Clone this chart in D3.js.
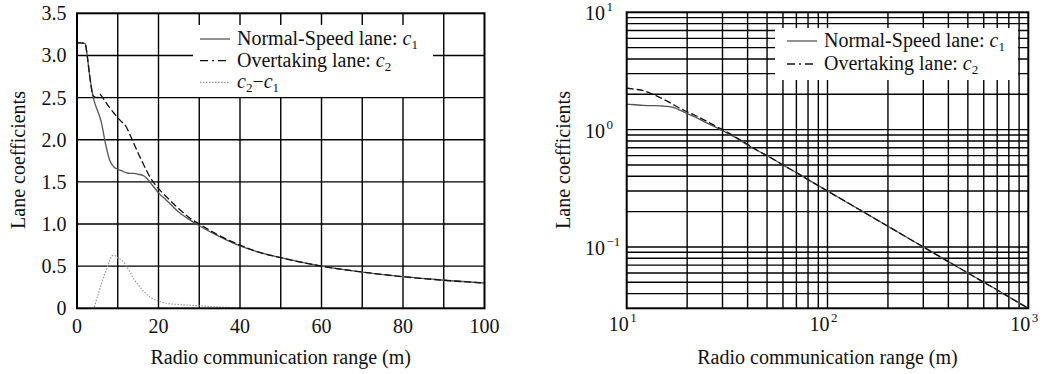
<!DOCTYPE html>
<html>
<head>
<meta charset="utf-8">
<script src="https://cdn.jsdelivr.net/npm/d3@7"></script>
<style>
  body { margin: 0; background: #fff; }
  text { font-family: "Liberation Serif", "Times New Roman", serif; fill: #111; }
</style>
</head>
<body>
<div id="chart"></div>
<script>
// values
var rangeX = [0, 1, 2, 2.5, 3, 4, 5, 5.6, 6, 7, 8, 9, 10, 11, 12, 13, 14, 15, 16, 17, 18, 19, 20,
              22, 25, 28, 30, 35, 40, 45, 50, 60, 70, 80, 90, 100, 150, 200, 300, 400, 500, 600, 700, 800, 1000]
var normalLane = [3.15, 3.15, 3.14, 3.0, 2.8, 2.5, 2.35, 2.27, 2.2, 1.95, 1.76, 1.68, 1.65, 1.63, 1.61, 1.60, 1.60, 1.59, 1.58, 1.55, 1.49, 1.43, 1.37,
                  1.28, 1.14, 1.04, 0.98, 0.85, 0.74, 0.66, 0.6, 0.5, 0.43, 0.375, 0.333, 0.3, 0.2, 0.15, 0.1, 0.075, 0.06, 0.05, 0.043, 0.0375, 0.03]
var overtakingLane = [3.15, 3.15, 3.14, 3.0, 2.8, 2.52, 2.5, 2.54, 2.52, 2.45, 2.38, 2.32, 2.26, 2.21, 2.16, 2.06, 1.95, 1.84, 1.74, 1.64, 1.55, 1.48, 1.42,
                      1.32, 1.18, 1.06, 1.0, 0.86, 0.75, 0.66, 0.6, 0.5, 0.43, 0.375, 0.333, 0.3, 0.2, 0.15, 0.1, 0.075, 0.06, 0.05, 0.043, 0.0375, 0.03]
var diffX = [0, 4, 5, 6, 7, 8, 8.5, 9, 10, 11, 12, 13, 14, 15, 16, 17, 18, 20, 22, 25, 30, 35, 40]
var diffVal = [0, 0, 0.14, 0.29, 0.43, 0.56, 0.62, 0.63, 0.6, 0.57, 0.51, 0.43, 0.34, 0.28, 0.22, 0.17, 0.13, 0.085, 0.06, 0.045, 0.03, 0.015, 0.004]

var linTicksX = [0, 20, 40, 60, 80, 100]
var linTicksY = [0, 0.5, 1.0, 1.5, 2.0, 2.5, 3.0, 3.5]
var linTickLabelsY = ["0", "0.5", "1.0", "1.5", "2.0", "2.5", "3.0", "3.5"]
var logTicksX = [10, 100, 1000]
var logTicksY = [0.1, 1, 10]

var width = 1054, height = 374

var svg = d3.select('#chart').append('svg').attr('width', width).attr('height', height)

function seriesData(xArr, yArr, lo, hi) {
  var out = []
  for (var i = 0; i < xArr.length; i++) {
    if (xArr[i] >= lo && xArr[i] <= hi) out.push([xArr[i], yArr[i]])
  }
  return out
}

function legend(g, box, rows) {
  g.append('rect').attr('x', box[0]).attr('y', box[1])
    .attr('width', box[2] - box[0]).attr('height', box[3] - box[1]).attr('fill', '#fff')
  rows.forEach(function (r, i) {
    var y = box[4] + i * box[5]
    g.append('line').attr('x1', box[6]).attr('x2', box[6] + 30).attr('y1', y - 6).attr('y2', y - 6)
      .attr('stroke', r.color).attr('stroke-width', r.w).attr('stroke-dasharray', r.dash)
    var t = g.append('text').attr('x', box[6] + 37).attr('y', y).style('font-size', '20px')
    r.parts.forEach(function (p) {
      var s = t.append('tspan').text(p[0])
      if (p[1] == 'i') s.style('font-style', 'italic')
      if (p[1] == 'sub') s.style('font-size', '13px').attr('dy', 4)
      if (p[1] == 'up') s.attr('dy', -4)
    })
  })
}

// ---------- left: linear ----------
var xL = d3.scaleLinear().domain([0, 100]).range([77, 484.5])
var yL = d3.scaleLinear().domain([0, 3.5]).range([308.3, 13.3])
var gL = svg.append('g')

gL.append('g').selectAll('line').data(d3.range(10, 100, 10)).join('line')
  .attr('x1', d => xL(d)).attr('x2', d => xL(d)).attr('y1', yL(0)).attr('y2', yL(3.5))
  .attr('stroke', '#000').attr('stroke-width', 1.4)
gL.append('g').selectAll('line').data(d3.range(0.5, 3.5, 0.5)).join('line')
  .attr('x1', xL(0)).attr('x2', xL(100)).attr('y1', d => yL(d)).attr('y2', d => yL(d))
  .attr('stroke', '#000').attr('stroke-width', 1.4)

legend(gL, [193, 25, 433, 97, 45, 21.7, 200], [
  {color: '#555', w: 1.3, dash: null, parts: [['Normal-Speed lane: '], ['c', 'i'], ['1', 'sub']]},
  {color: '#111', w: 1.3, dash: '8,4,2,4', parts: [['Overtaking lane: '], ['c', 'i'], ['2', 'sub']]},
  {color: '#999', w: 1.2, dash: '1.5,1.5', parts: [['c', 'i'], ['2', 'sub'], ['\u2212', 'up'], ['c', 'i'], ['1', 'sub']]}
])

var lineL = d3.line().x(d => xL(d[0])).y(d => yL(d[1])).curve(d3.curveMonotoneX)
gL.append('path').datum(seriesData(diffX, diffVal, 0, 100)).attr('d', lineL)
  .attr('fill', 'none').attr('stroke', '#999').attr('stroke-width', 1.2).attr('stroke-dasharray', '1.5,1.5')
gL.append('path').datum(seriesData(rangeX, normalLane, 0, 100)).attr('d', lineL)
  .attr('fill', 'none').attr('stroke', '#555').attr('stroke-width', 1.3)
gL.append('path').datum(seriesData(rangeX, overtakingLane, 0, 100)).attr('d', lineL)
  .attr('fill', 'none').attr('stroke', '#111').attr('stroke-width', 1.3).attr('stroke-dasharray', '7,3')

gL.append('rect').attr('x', xL(0)).attr('y', yL(3.5)).attr('width', xL(100) - xL(0)).attr('height', yL(0) - yL(3.5))
  .attr('fill', 'none').attr('stroke', '#000').attr('stroke-width', 2)

gL.append('g').selectAll('text').data(linTicksX).join('text')
  .attr('x', d => xL(d)).attr('y', 333).attr('text-anchor', 'middle').style('font-size', '20px').text(d => d)
gL.append('g').selectAll('text').data(linTicksY).join('text')
  .attr('x', 66.5).attr('y', d => yL(d)).attr('dy', '0.35em').attr('text-anchor', 'end').style('font-size', '20px')
  .text((d, i) => linTickLabelsY[i])
gL.append('text').attr('x', xL(50)).attr('y', 364).attr('text-anchor', 'middle').style('font-size', '20px')
  .text('Radio communication range (m)')
gL.append('text').attr('transform', 'translate(25,160) rotate(-90)').attr('text-anchor', 'middle')
  .style('font-size', '20px').text('Lane coefficients')

// ---------- right: log-log ----------
var xR = d3.scaleLog().domain([10, 1000]).range([626.7, 1028.3])
var yR = d3.scaleLog().domain([0.03, 10]).range([308.3, 12.3])
var gR = svg.append('g')

var minorX = xR.ticks().filter(d => d > 10 && d < 1000)
var minorY = yR.ticks().filter(d => d > 0.03 && d < 10)
gR.append('g').selectAll('line').data(minorX).join('line')
  .attr('x1', d => xR(d)).attr('x2', d => xR(d)).attr('y1', yR(0.03)).attr('y2', yR(10))
  .attr('stroke', '#000').attr('stroke-width', 1.4)
gR.append('g').selectAll('line').data(minorY).join('line')
  .attr('x1', xR(10)).attr('x2', xR(1000)).attr('y1', d => yR(d)).attr('y2', d => yR(d))
  .attr('stroke', '#000').attr('stroke-width', 1.4)

legend(gR, [775, 28, 1018, 80, 47, 23, 787], [
  {color: '#555', w: 1.3, dash: null, parts: [['Normal-Speed lane: '], ['c', 'i'], ['1', 'sub']]},
  {color: '#111', w: 1.3, dash: '8,4,2,4', parts: [['Overtaking lane: '], ['c', 'i'], ['2', 'sub']]}
])

var lineR = d3.line().x(d => xR(d[0])).y(d => yR(d[1])).curve(d3.curveMonotoneX)
gR.append('path').datum(seriesData(rangeX, normalLane, 10, 1000)).attr('d', lineR)
  .attr('fill', 'none').attr('stroke', '#555').attr('stroke-width', 1.3)
gR.append('path').datum(seriesData(rangeX, overtakingLane, 10, 1000)).attr('d', lineR)
  .attr('fill', 'none').attr('stroke', '#111').attr('stroke-width', 1.3).attr('stroke-dasharray', '7,3')

gR.append('rect').attr('x', xR(10)).attr('y', yR(10)).attr('width', xR(1000) - xR(10)).attr('height', yR(0.03) - yR(10))
  .attr('fill', 'none').attr('stroke', '#000').attr('stroke-width', 2)

function powLabel(g, x, y, base, sup) {
  g.append('text').attr('x', x).attr('y', y).attr('text-anchor', 'end').style('font-size', '20px').text(base)
  g.append('text').attr('x', x + 1.5).attr('y', y - 9).attr('text-anchor', 'start').style('font-size', '13px').text(sup)
}
logTicksX.forEach(function (d) {
  powLabel(gR, xR(d) + 2, 331, '10', String(Math.round(Math.log10(d))))
})
logTicksY.forEach(function (d) {
  var e = Math.round(Math.log10(d))
  powLabel(gR, 605, yR(d) + 8, '10', e < 0 ? '\u2212' + (-e) : String(e))
})
gR.append('text').attr('x', (xR(10) + xR(1000)) / 2).attr('y', 364).attr('text-anchor', 'middle').style('font-size', '20px')
  .text('Radio communication range (m)')
gR.append('text').attr('transform', 'translate(570,160) rotate(-90)').attr('text-anchor', 'middle')
  .style('font-size', '20px').text('Lane coefficients')
</script>
</body>
</html>
